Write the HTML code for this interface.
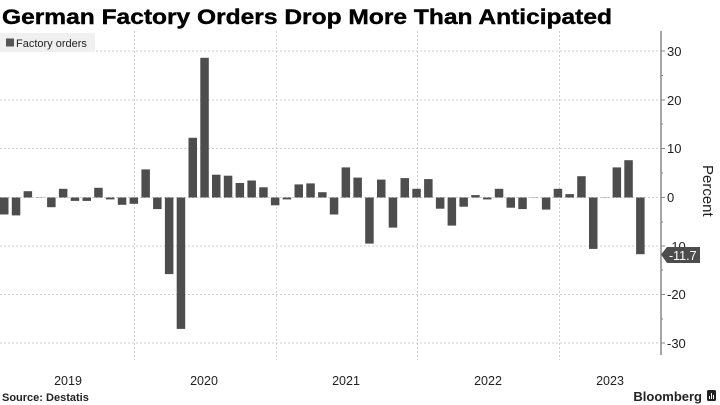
<!DOCTYPE html>
<html><head><meta charset="utf-8"><style>
html,body{margin:0;padding:0;background:#fff;}
svg{display:block;font-family:"Liberation Sans",sans-serif;}
</style></head><body>
<svg width="720" height="405" viewBox="0 0 720 405" xmlns="http://www.w3.org/2000/svg">
<rect width="720" height="405" fill="#fff"/>
<text x="2" y="24" font-size="21" font-weight="bold" fill="#000" textLength="610" lengthAdjust="spacingAndGlyphs" stroke="#000" stroke-width="0.4">German Factory Orders Drop More Than Anticipated</text>
<g stroke="#cfcfcf" stroke-width="1" stroke-dasharray="2,2">
<line x1="0" x2="660" y1="51" y2="51"/>
<line x1="0" x2="660" y1="100" y2="100"/>
<line x1="0" x2="660" y1="148.5" y2="148.5"/>
<line x1="0" x2="660" y1="197.5" y2="197.5"/>
<line x1="0" x2="660" y1="246" y2="246"/>
<line x1="0" x2="660" y1="294.5" y2="294.5"/>
<line x1="0" x2="660" y1="343" y2="343"/>
<line x1="134.5" x2="134.5" y1="31" y2="360"/>
<line x1="276.5" x2="276.5" y1="31" y2="360"/>
<line x1="417.5" x2="417.5" y1="31" y2="360"/>
<line x1="559.5" x2="559.5" y1="31" y2="360"/>
</g>
<rect x="0" y="33" width="95" height="19" fill="#f0f0f0"/>
<rect x="6" y="38.5" width="8" height="8" fill="#555"/>
<text x="16" y="47" font-size="11" fill="#222">Factory orders</text>
<g fill="#4d4d4d">
<rect x="0" y="197.5" width="8.5" height="17"/>
<rect x="11.8" y="197.5" width="8.5" height="17.9"/>
<rect x="23.6" y="191.2" width="8.5" height="6.3"/>
<rect x="35.3" y="197" width="8.5" height="0.6" fill="#aaa"/>
<rect x="47.1" y="197.5" width="8.5" height="9.7"/>
<rect x="58.9" y="188.8" width="8.5" height="8.7"/>
<rect x="70.7" y="197.5" width="8.5" height="3.4"/>
<rect x="82.5" y="197.5" width="8.5" height="3.4"/>
<rect x="94.2" y="187.8" width="8.5" height="9.7"/>
<rect x="106" y="197.5" width="8.5" height="1.9"/>
<rect x="117.8" y="197.5" width="8.5" height="7.3"/>
<rect x="129.6" y="197.5" width="8.5" height="6.3"/>
<rect x="141.4" y="169.4" width="8.5" height="28.1"/>
<rect x="153.1" y="197.5" width="8.5" height="11.6"/>
<rect x="164.9" y="197.5" width="8.5" height="76.6"/>
<rect x="176.7" y="197.5" width="8.5" height="131.4"/>
<rect x="188.5" y="137.8" width="8.5" height="59.7"/>
<rect x="200.3" y="57.8" width="8.5" height="139.7"/>
<rect x="212" y="174.7" width="8.5" height="22.8"/>
<rect x="223.8" y="175.7" width="8.5" height="21.8"/>
<rect x="235.6" y="183" width="8.5" height="14.5"/>
<rect x="247.4" y="180.5" width="8.5" height="17"/>
<rect x="259.2" y="187.3" width="8.5" height="10.2"/>
<rect x="270.9" y="197.5" width="8.5" height="7.8"/>
<rect x="282.7" y="197.5" width="8.5" height="1.9"/>
<rect x="294.5" y="184.4" width="8.5" height="13.1"/>
<rect x="306.3" y="183.4" width="8.5" height="14.1"/>
<rect x="318.1" y="192.2" width="8.5" height="5.3"/>
<rect x="329.8" y="197.5" width="8.5" height="17"/>
<rect x="341.6" y="167.4" width="8.5" height="30.1"/>
<rect x="353.4" y="177.6" width="8.5" height="19.9"/>
<rect x="365.2" y="197.5" width="8.5" height="46.1"/>
<rect x="377" y="179.6" width="8.5" height="17.9"/>
<rect x="388.7" y="197.5" width="8.5" height="30.1"/>
<rect x="400.5" y="178.1" width="8.5" height="19.4"/>
<rect x="412.3" y="188.8" width="8.5" height="8.7"/>
<rect x="424.1" y="179.1" width="8.5" height="18.4"/>
<rect x="435.9" y="197.5" width="8.5" height="11.2"/>
<rect x="447.6" y="197.5" width="8.5" height="28.1"/>
<rect x="459.4" y="197.5" width="8.5" height="9.2"/>
<rect x="471.2" y="195.1" width="8.5" height="2.4"/>
<rect x="483" y="197.5" width="8.5" height="1.9"/>
<rect x="494.8" y="188.8" width="8.5" height="8.7"/>
<rect x="506.5" y="197.5" width="8.5" height="10.2"/>
<rect x="518.3" y="197.5" width="8.5" height="11.6"/>
<rect x="530.1" y="197" width="8.5" height="0.6" fill="#aaa"/>
<rect x="541.9" y="197.5" width="8.5" height="12.1"/>
<rect x="553.7" y="188.8" width="8.5" height="8.7"/>
<rect x="565.4" y="194.1" width="8.5" height="3.4"/>
<rect x="577.2" y="176.2" width="8.5" height="21.3"/>
<rect x="589" y="197.5" width="8.5" height="51.4"/>
<rect x="600.8" y="197" width="8.5" height="0.6" fill="#aaa"/>
<rect x="612.6" y="167.4" width="8.5" height="30.1"/>
<rect x="624.3" y="160.2" width="8.5" height="37.3"/>
<rect x="636.1" y="197.5" width="8.5" height="56.7"/>
</g>
<line x1="661" x2="661" y1="31" y2="355" stroke="#888" stroke-width="1.5"/>
<g stroke="#888" stroke-width="1">
<line x1="661" x2="665" y1="51" y2="51"/><line x1="661" x2="665" y1="100" y2="100"/>
<line x1="661" x2="665" y1="148.5" y2="148.5"/><line x1="661" x2="665" y1="197.5" y2="197.5"/>
<line x1="661" x2="665" y1="246" y2="246"/><line x1="661" x2="665" y1="294.5" y2="294.5"/>
<line x1="661" x2="665" y1="343" y2="343"/>
<line x1="661" x2="663" y1="75.5" y2="75.5"/><line x1="661" x2="663" y1="124" y2="124"/>
<line x1="661" x2="663" y1="173" y2="173"/><line x1="661" x2="663" y1="222" y2="222"/>
<line x1="661" x2="663" y1="270" y2="270"/><line x1="661" x2="663" y1="319" y2="319"/>
</g>
<g font-size="13" fill="#222">
<text x="667" y="56">30</text>
<text x="667" y="105">20</text>
<text x="667" y="153">10</text>
<text x="667" y="202">0</text>
<text x="667" y="251">-10</text>
<text x="667" y="299">-20</text>
<text x="667" y="348">-30</text>
</g>
<polygon points="661,254.5 667,247 700,247 700,263 667,263" fill="#4d4d4d"/>
<text x="669" y="260" font-size="12.5" fill="#fff">-11.7</text>
<text x="0" y="0" font-size="15" fill="#222" transform="translate(703,165) rotate(90)">Percent</text>
<g font-size="12.5" fill="#222" text-anchor="middle">
<text x="68" y="385">2019</text>
<text x="204" y="385">2020</text>
<text x="346" y="385">2021</text>
<text x="488" y="385">2022</text>
<text x="610" y="385">2023</text>
</g>
<text x="2" y="401" font-size="11" font-weight="bold" fill="#222">Source:  Destatis</text>
<text x="702" y="401" font-size="13" font-weight="bold" fill="#222" text-anchor="end">Bloomberg</text>
<rect x="707" y="390" width="9" height="11" rx="1.5" fill="#222"/>
<g stroke="#fff" stroke-width="1"><line x1="709.5" x2="709.5" y1="396" y2="399"/><line x1="711.5" x2="711.5" y1="393" y2="399"/><line x1="713.5" x2="713.5" y1="395" y2="399"/></g>
</svg>
</body></html>
